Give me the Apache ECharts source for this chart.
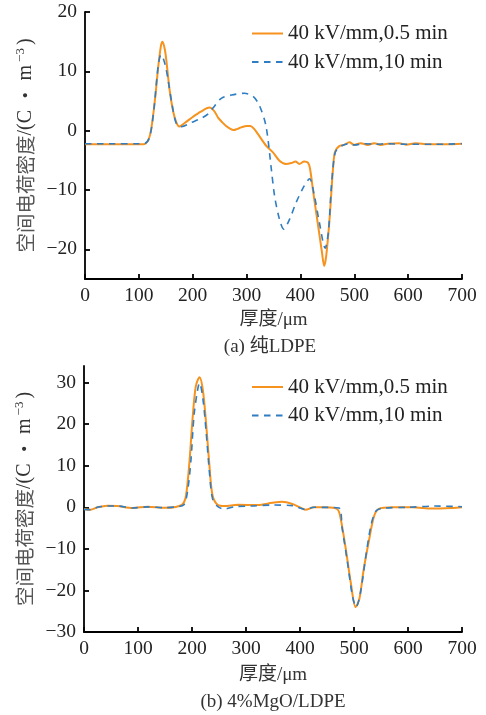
<!DOCTYPE html>
<html><head><meta charset="utf-8">
<script src="https://cdn.jsdelivr.net/npm/echarts@6/dist/echarts.min.js"></script>
<style>html,body{margin:0;padding:0;background:#fff}#c{width:486px;height:715px}</style>
</head><body><div id="c"></div>
<script>
// ---- Data (a) 纯LDPE ----
const legendNames = ['40 kV/mm,0.5 min', '40 kV/mm,10 min'];
const xTicks = [0, 100, 200, 300, 400, 500, 600, 700];
const yTicksA = [-20, -10, 0, 10, 20];
const yTicksB = [-30, -20, -10, 0, 10, 20, 30];

const xA05 = [0,50,100,108,117,123,130,136,141,144,148,151,157,164,170,175,185,200,215,231,240,247,255,262,270,276,283,290,300,307,314,321,336,349,361,373,383,391,398,407,414,418,424,432,440,444,448,454,460,464,472,481,491,500,512,525,537,549,562,583,596,614,638,670,700];
const yA05 = [-2.3,-2.3,-2.3,-2.3,-1.7,0.3,5.3,10.8,14.3,15.0,13.8,11.9,6.9,3.1,1.3,0.7,1.3,2.3,3.2,3.9,3.3,2.2,1.4,0.8,0.3,0.1,0.3,0.55,0.8,0.8,0.3,-0.55,-2.5,-3.65,-5.06,-5.6,-5.45,-5.2,-5.6,-5.2,-5.4,-6.5,-10.5,-15.5,-20.5,-22.8,-21,-15,-7,-3.6,-2.6,-2.4,-1.97,-2.4,-2.1,-2.4,-2.1,-2.4,-2.2,-2.1,-2.36,-2.1,-2.3,-2.3,-2.2];

const xA10 = [0,50,100,110,120,128,136,141,146,151,154,162,170,179,198,216,228,241,253,272,296,312,324,336,346,352,361,369,380,392,407,417,426,435,446,452,457,462,466,478,490,500,520,540,560,600,650,700];
const yA10 = [-2.2,-2.2,-2.2,-2.2,-1.1,3.65,11,12.8,12.0,10.2,8.7,4.2,1.1,0.67,1.4,2.1,2.8,4.2,5.45,6.0,6.3,5.8,4.2,0.8,-6.5,-11,-14.9,-16.6,-14.9,-12.1,-9.3,-8.1,-11,-15.4,-19.8,-17,-10,-5,-3.4,-2.5,-2.2,-2.4,-2.2,-2.3,-2.2,-2.3,-2.3,-2.2];

// ---- Data (b) 4%MgO/LDPE ----
const xB05 = [0,12,25,43,62,90,118,149,170,183,189,195,201,207,214,220,226,232,238,248,260,285,322,349,367,386,401,410,426,441,466,472,478,485,494,503,510,518,528,537,546,571,608,645,683,700];
const yB05 = [-0.4,-0.6,0,0.4,0.3,-0.15,0.15,-0.1,0.1,0.8,2.9,10.5,21.2,29.1,31.3,28.3,20.4,10.5,2.9,0.55,0.3,0.6,0.55,1.1,1.35,0.8,-0.1,-0.6,0,0,-0.25,-1.0,-4.6,-10.2,-18.1,-24.0,-22,-14.9,-7.8,-2.2,-0.4,0,0,-0.3,-0.15,0];

const xB10 = [0,12,25,43,62,90,118,149,170,185,192,198,204,211,214,220,226,232,238,248,260,279,310,349,386,410,426,472,478,488,497,504,512,522,531,540,552,600,650,700];
const yB10 = [-0.5,-0.6,0,0.3,0.3,-0.15,0.1,-0.1,0.1,0.6,4.1,11.3,22.4,28.7,29.9,26.3,18.4,8.9,2.1,0.15,-0.4,0.15,0.3,0.55,0.4,-0.5,0,-0.15,-5,-13.3,-21.3,-24,-20.5,-11.7,-4.6,-1.0,-0.25,0,0.3,0.15];

const pairs = (xs, ys) => xs.map((x, i) => [x, ys[i]]);

const ORANGE = '#F6921E', BLUE = '#2F7DC2';
const SERIF = '"Liberation Serif","Noto Sans CJK SC",serif';
const CJK = '"Noto Sans CJK SC",sans-serif';
const minus = v => String(v).replace('-', '\u2212');

function xAxis(gi, gap) {
  return {
    type: 'value', gridIndex: gi, min: 0, max: 700, interval: 100,
    name: '厚度/μm', nameLocation: 'middle', nameGap: gap,
    nameTextStyle: { fontFamily: SERIF, fontSize: 19, color: '#333' },
    axisLine: { onZero: false, lineStyle: { color: '#000', width: 1.8 } },
    axisTick: { inside: true, length: 5, lineStyle: { color: '#000', width: 1.8 } },
    axisLabel: { margin: 7, fontFamily: SERIF, fontSize: 19.5, color: '#222' },
    splitLine: { show: false }
  };
}
function yAxis(gi, min, max, ticks) {
  return {
    type: 'value', gridIndex: gi, min: min, max: max,
    name: '{cjk|空间电荷密度}/(C {dot|·} m{sup|\u22123})', nameLocation: 'middle', nameGap: 45, nameRotate: 90,
    nameTextStyle: { fontFamily: SERIF, fontSize: 20, color: '#333',
      rich: {
        cjk: { fontFamily: CJK, fontSize: 19.5, color: '#555' },
        dot: { fontFamily: CJK, fontSize: 19.5, color: '#333' },
        sup: { fontFamily: SERIF, fontSize: 13, color: '#333', padding: [0, 3, 11, 3] }
      } },
    axisLine: { onZero: false, lineStyle: { color: '#000', width: 1.8 } },
    axisTick: { inside: true, length: 5, customValues: ticks, lineStyle: { color: '#000', width: 1.8 } },
    axisLabel: { margin: 8, customValues: ticks, fontFamily: SERIF, fontSize: 19.5, color: '#222', formatter: minus },
    splitLine: { show: false }
  };
}
function series(name, xi, data, color, dashed) {
  return {
    name: name, type: 'line', xAxisIndex: xi, yAxisIndex: xi, data: data,
    showSymbol: false, symbol: 'none', smooth: 0.3, z: dashed ? 3 : 2,
    lineStyle: { color: color, width: dashed ? 1.6 : 2, type: dashed ? [6.5, 5.5] : 'solid' },
    itemStyle: { color: color }
  };
}
function legend(top) {
  return {
    orient: 'vertical', left: 251, top: top, padding: 0, itemWidth: 31, itemHeight: 14, itemGap: 7.5, itemTextGap: 5,
    itemStyle: { opacity: 0 },
    textStyle: { fontFamily: SERIF, fontSize: 21, color: '#222' },
    data: legendNames
  };
}

const chart = echarts.init(document.getElementById('c'), null, { renderer: 'canvas' });
chart.setOption({
  animation: false,
  backgroundColor: '#fff',
  grid: [
    { left: 85, right: 24, top: 12, height: 267 },
    { left: 84, right: 24, top: 366, height: 266 }
  ],
  xAxis: [xAxis(0, 32), xAxis(1, 34)],
  yAxis: [yAxis(0, -25, 20, yTicksA), yAxis(1, -30, 34, yTicksB)],
  legend: [legend(23), legend(376.5)],
  series: [
    series(legendNames[0], 0, pairs(xA05, yA05), ORANGE, false),
    series(legendNames[1], 0, pairs(xA10, yA10), BLUE, true),
    series(legendNames[0], 1, pairs(xB05, yB05), ORANGE, false),
    series(legendNames[1], 1, pairs(xB10, yB10), BLUE, true)
  ],
  graphic: [
    { type: 'text', x: 270, y: 347, style: { text: '(a) 纯LDPE', font: '19px ' + SERIF, fill: '#333', textAlign: 'center', textVerticalAlign: 'middle' } },
    { type: 'text', x: 273, y: 702, style: { text: '(b) 4%MgO/LDPE', font: '19px ' + SERIF, fill: '#333', textAlign: 'center', textVerticalAlign: 'middle' } }
  ]
});
</script></body></html>
